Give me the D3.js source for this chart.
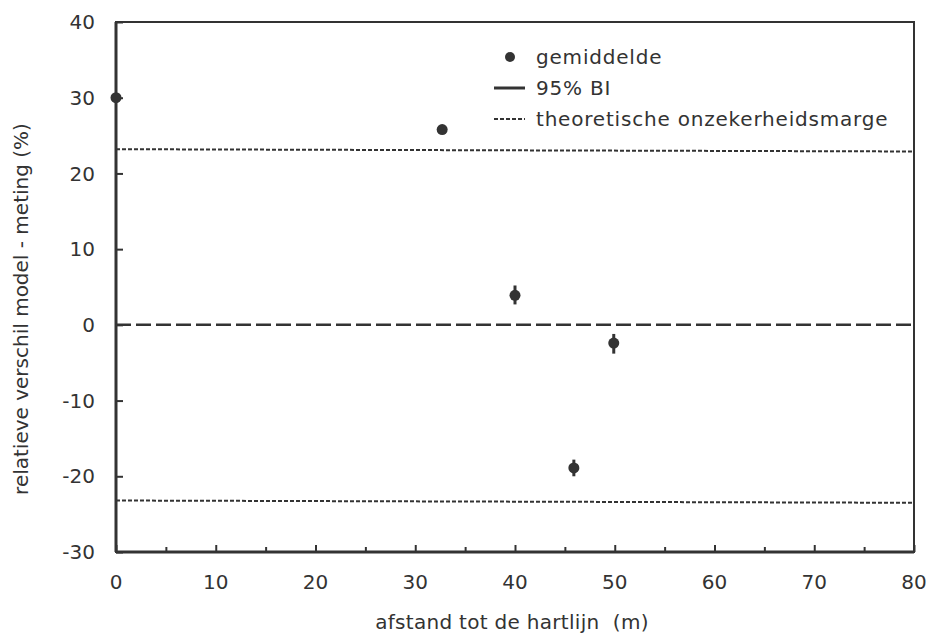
<!DOCTYPE html>
<html>
  <head>
    <style>
      body,
      html {
        margin: 0;
        padding: 0;
        background: #fff;
        overflow: hidden;
      }
      svg {
        display: block;
      }
      text {
        font-family: "DejaVu Sans", Verdana, sans-serif;
        fill: #333;
      }
    </style>
  </head>
  <body>
    <script src="https://cdn.jsdelivr.net/npm/d3@7"></script>
    <script>
      // afstand tot de hartlijn (m)
      const distances = [0, 32.7, 40, 45.9, 49.9];
      // gemiddelde relatieve verschil (%)
      const means = [30, 25.8, 3.9, -18.9, -2.4];
      // 95% betrouwbaarheidsinterval
      const ciLow = [29.6, 25.4, 2.7, -20.0, -3.8];
      const ciHigh = [30.4, 26.2, 5.2, -17.8, -1.2];
      // theoretische onzekerheidsmarge
      const marginUpper = [23.2, 22.9];
      const marginLower = [-23.2, -23.5];
      const marginX = [0, 80];

      const xTicks = [0, 10, 20, 30, 40, 50, 60, 70, 80];
      const xMinorTicks = [5, 15, 25, 35, 45, 55, 65, 75];
      const yTicks = [-30, -20, -10, 0, 10, 20, 30, 40];

      const width = 929;
      const height = 633;
      const margin = { top: 22, right: 15, bottom: 81, left: 116 };
      const ink = "#333";

      const svg = d3
        .select("body")
        .append("svg")
        .attr("width", width)
        .attr("height", height);

      const x = d3
        .scaleLinear()
        .domain([0, 80])
        .range([margin.left, width - margin.right]);
      const y = d3
        .scaleLinear()
        .domain([-30, 40])
        .range([height - margin.bottom, margin.top]);

      // frame
      svg
        .append("rect")
        .attr("x", x(0))
        .attr("y", y(40))
        .attr("width", x(80) - x(0))
        .attr("height", y(-30) - y(40))
        .attr("fill", "none")
        .attr("stroke", ink)
        .attr("stroke-width", 2);

      // x axis: ticks inward
      svg
        .append("g")
        .attr("transform", `translate(0,${y(-30)})`)
        .call(d3.axisTop(x).tickValues(xTicks).tickSize(7).tickFormat(""));
      svg
        .append("g")
        .attr("transform", `translate(0,${y(-30)})`)
        .call(
          d3.axisTop(x).tickValues(xMinorTicks).tickSize(5).tickFormat("")
        );
      svg.selectAll("g .domain").remove();
      svg
        .selectAll("g .tick line")
        .attr("stroke", ink)
        .attr("stroke-width", 2);

      svg
        .append("g")
        .selectAll("text")
        .data(xTicks)
        .join("text")
        .attr("x", (d) => x(d))
        .attr("y", y(-30) + 37)
        .attr("text-anchor", "middle")
        .attr("font-size", 20)
        .text((d) => d);

      // y axis: ticks inward
      svg
        .append("g")
        .attr("transform", `translate(${x(0)},0)`)
        .call(d3.axisRight(y).tickValues(yTicks).tickSize(7).tickFormat(""))
        .call((g) => g.select(".domain").remove())
        .call((g) =>
          g.selectAll(".tick line").attr("stroke", ink).attr("stroke-width", 2)
        );

      svg
        .append("g")
        .selectAll("text")
        .data(yTicks)
        .join("text")
        .attr("x", x(0) - 21)
        .attr("y", (d) => y(d))
        .attr("dy", "0.36em")
        .attr("text-anchor", "end")
        .attr("font-size", 20)
        .text((d) => d);

      // left and bottom axis lines a bit heavier
      svg
        .append("line")
        .attr("x1", x(0))
        .attr("x2", x(0))
        .attr("y1", y(40))
        .attr("y2", y(-30))
        .attr("stroke", ink)
        .attr("stroke-width", 3);
      svg
        .append("line")
        .attr("x1", x(0))
        .attr("x2", x(80))
        .attr("y1", y(-30))
        .attr("y2", y(-30))
        .attr("stroke", ink)
        .attr("stroke-width", 3);

      // axis titles
      svg
        .append("text")
        .attr("x", 512)
        .attr("y", y(-30) + 77)
        .attr("text-anchor", "middle")
        .attr("font-size", 20)
        .attr("letter-spacing", 0.3)
        .attr("xml:space", "preserve")
        .text("afstand tot de hartlijn  (m)");

      svg
        .append("text")
        .attr(
          "transform",
          `translate(28,${(y(40) + y(-30)) / 2 + 22}) rotate(-90)`
        )
        .attr("text-anchor", "middle")
        .attr("font-size", 20)
        .text("relatieve verschil model - meting (%)");

      // zero line
      svg
        .append("line")
        .attr("x1", x(0))
        .attr("x2", x(80))
        .attr("y1", y(0))
        .attr("y2", y(0))
        .attr("stroke", ink)
        .attr("stroke-width", 2.5)
        .attr("stroke-dasharray", "15,5");

      // theoretische onzekerheidsmarge
      const line = d3
        .line()
        .x((d) => x(d[0]))
        .y((d) => y(d[1]));
      [marginUpper, marginLower].forEach((m) => {
        svg
          .append("path")
          .attr("d", line(marginX.map((v, i) => [v, m[i]])))
          .attr("fill", "none")
          .attr("stroke", ink)
          .attr("stroke-width", 2)
          .attr("stroke-dasharray", "4,2");
      });

      // 95% BI
      svg
        .append("g")
        .selectAll("line")
        .data(distances)
        .join("line")
        .attr("x1", (d) => x(d))
        .attr("x2", (d) => x(d))
        .attr("y1", (d, i) => y(ciLow[i]))
        .attr("y2", (d, i) => y(ciHigh[i]))
        .attr("stroke", ink)
        .attr("stroke-width", 3);

      // gemiddelde
      svg
        .append("g")
        .selectAll("circle")
        .data(distances)
        .join("circle")
        .attr("cx", (d) => x(d))
        .attr("cy", (d, i) => y(means[i]))
        .attr("r", 5.5)
        .attr("fill", ink);

      // legend
      const legend = svg.append("g").attr("transform", "translate(494,57)");
      legend
        .append("circle")
        .attr("cx", 16)
        .attr("cy", 0)
        .attr("r", 5)
        .attr("fill", ink);
      legend
        .append("line")
        .attr("x1", 0)
        .attr("x2", 31)
        .attr("y1", 31)
        .attr("y2", 31)
        .attr("stroke", ink)
        .attr("stroke-width", 3);
      legend
        .append("line")
        .attr("x1", 0)
        .attr("x2", 31)
        .attr("y1", 62)
        .attr("y2", 62)
        .attr("stroke", ink)
        .attr("stroke-width", 2)
        .attr("stroke-dasharray", "4,2");
      legend
        .selectAll("text")
        .data(["gemiddelde", "95% BI", "theoretische onzekerheidsmarge"])
        .join("text")
        .attr("x", 42)
        .attr("y", (d, i) => i * 31)
        .attr("dy", "0.36em")
        .attr("font-size", 20)
        .attr("letter-spacing", 0.8)
        .text((d) => d);
    </script>
  </body>
</html>
